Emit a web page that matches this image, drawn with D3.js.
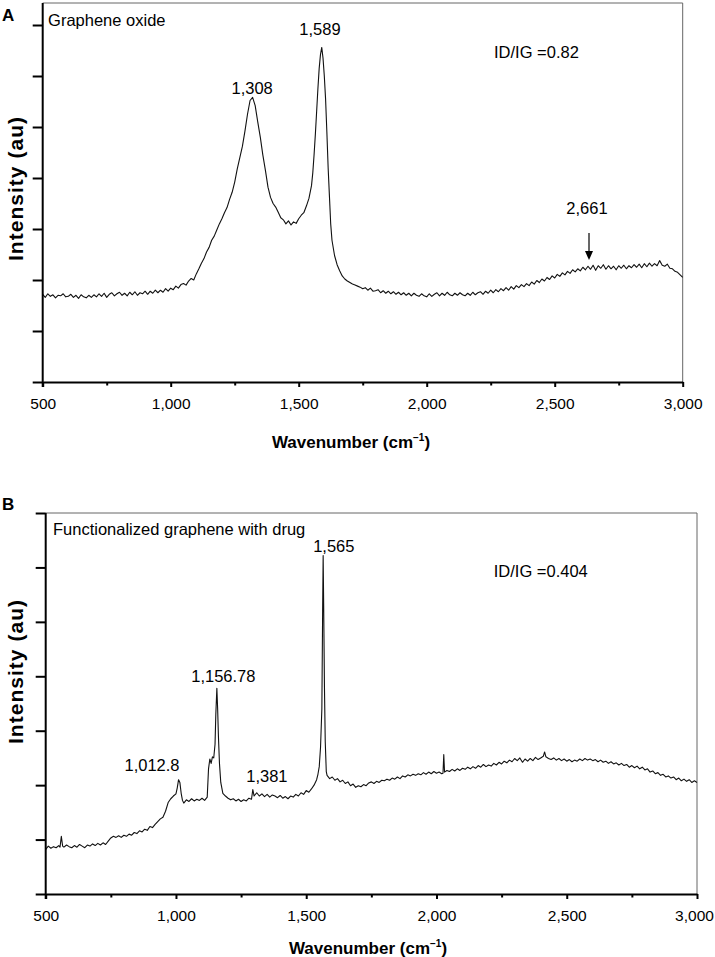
<!DOCTYPE html>
<html>
<head>
<meta charset="utf-8">
<script src="https://cdn.jsdelivr.net/npm/d3@7/dist/d3.min.js"></script>
<style>
  html, body { margin: 0; padding: 0; background: #fff; }
  svg { display: block; font-family: "Liberation Sans", Arial, Helvetica, sans-serif; }
</style>
</head>
<body>
<svg id="chart" width="715" height="957"></svg>
<script>
// ---------------- DATA ----------------
const xTickValues = [500, 1000, 1500, 2000, 2500, 3000];
const xMinorTickValues = [750, 1250, 1750, 2250, 2750];
const yTicksA = [0, 1, 2, 3, 4, 5, 6, 7];
const yTicksB = [0, 1, 2, 3, 4, 5, 6, 7];

// Panel A: Graphene oxide  [wavenumber, intensity (au)]
const spectrumA = [
[500,1.72],[510,1.66],[520,1.73],[530,1.68],[540,1.71],[550,1.65],[560,1.70],[570,1.69],[580,1.73],[590,1.67],
[600,1.68],[610,1.72],[620,1.66],[630,1.70],[640,1.64],[650,1.71],[660,1.67],[670,1.65],[680,1.70],[690,1.66],
[700,1.71],[710,1.67],[720,1.73],[730,1.68],[740,1.74],[750,1.66],[760,1.72],[770,1.75],[780,1.69],[790,1.73],
[800,1.76],[810,1.70],[820,1.74],[830,1.69],[840,1.76],[850,1.71],[860,1.77],[870,1.70],[880,1.75],[890,1.73],
[900,1.78],[910,1.72],[920,1.78],[930,1.74],[940,1.80],[950,1.75],[960,1.80],[970,1.76],[980,1.83],[990,1.78],
[1000,1.84],[1010,1.81],[1020,1.88],[1030,1.84],[1040,1.91],[1050,1.93],[1060,1.90],[1070,1.98],[1080,2.03],[1090,2.00],
[1100,2.12],[1110,2.22],[1120,2.33],[1130,2.42],[1140,2.55],[1150,2.64],[1160,2.78],[1170,2.86],[1180,2.98],[1190,3.10],
[1200,3.20],[1210,3.32],[1220,3.42],[1230,3.58],[1240,3.72],[1250,3.92],[1260,4.18],[1270,4.40],[1280,4.62],[1290,4.92],
[1300,5.25],[1310,5.52],[1320,5.58],[1330,5.42],[1340,5.10],[1350,4.80],[1360,4.45],[1370,4.15],[1380,3.82],[1390,3.62],
[1400,3.50],[1410,3.43],[1420,3.33],[1430,3.22],[1440,3.18],[1450,3.10],[1460,3.16],[1470,3.08],[1480,3.14],[1490,3.11],
[1500,3.20],[1510,3.27],[1520,3.32],[1530,3.45],[1540,3.60],[1550,3.85],[1555,4.10],[1560,4.45],[1565,4.85],[1570,5.30],
[1575,5.75],[1580,6.15],[1585,6.42],[1590,6.56],[1595,6.35],[1600,6.00],[1605,5.55],[1610,4.90],[1615,4.20],[1620,3.65],
[1625,3.10],[1630,2.78],[1640,2.48],[1650,2.30],[1660,2.18],[1670,2.08],[1680,2.02],[1690,1.98],
[1700,1.95],[1710,1.92],[1720,1.90],[1730,1.88],[1740,1.86],[1750,1.83],[1760,1.85],[1770,1.80],[1780,1.84],[1790,1.78],
[1800,1.79],[1810,1.81],[1820,1.75],[1830,1.79],[1840,1.74],[1850,1.78],[1860,1.73],[1870,1.77],[1880,1.72],[1890,1.76],
[1900,1.71],[1910,1.75],[1920,1.70],[1930,1.74],[1940,1.69],[1950,1.74],[1960,1.70],[1970,1.68],[1980,1.73],[1990,1.69],
[2000,1.67],[2010,1.73],[2020,1.68],[2030,1.72],[2040,1.75],[2050,1.69],[2060,1.74],[2070,1.70],[2080,1.76],[2090,1.71],
[2100,1.69],[2110,1.74],[2120,1.70],[2130,1.75],[2140,1.71],[2150,1.69],[2160,1.74],[2170,1.70],[2180,1.76],[2190,1.71],
[2200,1.75],[2210,1.77],[2220,1.72],[2230,1.78],[2240,1.74],[2250,1.80],[2260,1.75],[2270,1.81],[2280,1.77],[2290,1.83],
[2300,1.79],[2310,1.85],[2320,1.80],[2330,1.87],[2340,1.82],[2350,1.89],[2360,1.85],[2370,1.91],[2380,1.87],[2390,1.93],
[2400,1.89],[2410,1.96],[2420,1.92],[2430,1.99],[2440,1.95],[2450,2.02],[2460,1.98],[2470,2.05],[2480,2.01],[2490,2.08],
[2500,2.04],[2510,2.11],[2520,2.07],[2530,2.14],[2540,2.10],[2550,2.17],[2560,2.13],[2570,2.20],[2580,2.16],[2590,2.22],
[2600,2.18],[2610,2.25],[2620,2.20],[2630,2.27],[2640,2.21],[2650,2.29],[2660,2.19],[2670,2.28],[2680,2.23],[2690,2.30],
[2700,2.21],[2710,2.28],[2720,2.22],[2730,2.27],[2740,2.20],[2750,2.28],[2760,2.23],[2770,2.29],[2780,2.22],[2790,2.28],
[2800,2.24],[2810,2.30],[2820,2.25],[2830,2.31],[2840,2.24],[2850,2.32],[2860,2.26],[2870,2.33],[2880,2.27],[2890,2.32],
[2900,2.28],[2910,2.38],[2920,2.29],[2930,2.27],[2940,2.31],[2950,2.23],[2960,2.22],[2970,2.17],[2980,2.15],[2990,2.10],
[3000,2.05]
];

// Panel B: Functionalized graphene with drug  [wavenumber, intensity (au)]
const spectrumB = [
[500,0.82],[510,0.88],[520,0.84],[530,0.87],[540,0.85],[550,0.89],[555,0.86],[560,1.06],[565,0.88],[570,0.86],[580,0.90],[590,0.87],
[600,0.85],[610,0.89],[620,0.86],[630,0.91],[640,0.88],[650,0.85],[660,0.90],[670,0.88],[680,0.92],[690,0.89],
[700,0.93],[710,0.90],[720,0.94],[730,0.91],[740,0.97],[750,1.03],[760,1.06],[770,1.04],[780,1.07],[790,1.04],
[800,1.08],[810,1.06],[820,1.10],[830,1.08],[840,1.13],[850,1.11],[860,1.16],[870,1.14],[880,1.19],[890,1.17],
[900,1.24],[910,1.22],[920,1.28],[930,1.33],[940,1.38],[950,1.41],[960,1.52],[970,1.68],[980,1.75],[990,1.80],
[1000,1.84],[1005,1.95],[1010,2.10],[1015,2.05],[1020,1.85],[1025,1.72],[1030,1.67],[1040,1.73],[1050,1.70],[1060,1.75],
[1070,1.71],[1080,1.74],[1090,1.72],[1100,1.76],[1110,1.72],[1120,1.78],[1125,2.30],[1130,2.48],[1135,2.40],[1140,2.52],
[1145,2.50],[1150,2.75],[1153,3.30],[1157,3.78],[1160,3.40],[1163,2.90],[1167,2.40],[1172,2.05],[1180,1.85],[1190,1.80],
[1200,1.76],[1210,1.73],[1220,1.75],[1230,1.71],[1240,1.74],[1250,1.70],[1260,1.73],[1270,1.71],[1280,1.76],[1290,1.74],
[1295,1.92],[1300,1.80],[1310,1.86],[1320,1.80],[1330,1.84],[1340,1.79],[1350,1.83],[1360,1.78],[1370,1.82],[1380,1.80],
[1390,1.77],[1400,1.81],[1410,1.76],[1420,1.79],[1430,1.75],[1440,1.80],[1450,1.78],[1460,1.83],[1470,1.80],[1480,1.86],
[1490,1.83],[1500,1.90],[1510,1.87],[1520,1.93],[1530,2.00],[1540,2.10],[1545,2.20],[1550,2.34],[1555,2.70],[1560,3.40],
[1563,5.20],[1565,6.22],[1567,5.30],[1570,3.80],[1573,2.80],[1577,2.25],[1580,2.18],[1590,2.12],
[1600,2.15],[1610,2.09],[1620,2.12],[1630,2.06],[1640,2.09],[1650,2.03],[1660,2.06],[1670,1.99],[1680,2.02],[1690,1.96],
[1700,1.99],[1710,1.97],[1720,2.01],[1730,1.99],[1740,2.04],[1750,2.06],[1760,2.03],[1770,2.07],[1780,2.05],[1790,2.09],
[1800,2.08],[1810,2.11],[1820,2.09],[1830,2.13],[1840,2.11],[1850,2.15],[1860,2.12],[1870,2.17],[1880,2.15],[1890,2.19],
[1900,2.17],[1910,2.20],[1920,2.18],[1930,2.21],[1940,2.19],[1950,2.23],[1960,2.20],[1970,2.24],[1980,2.21],[1990,2.25],
[2000,2.22],[2010,2.24],[2020,2.21],[2025,2.22],[2028,2.56],[2031,2.24],[2040,2.27],[2050,2.25],[2060,2.29],[2070,2.26],
[2080,2.30],[2090,2.27],[2100,2.31],[2110,2.29],[2120,2.33],[2130,2.30],[2140,2.34],[2150,2.31],[2160,2.36],[2170,2.33],
[2180,2.38],[2190,2.34],[2200,2.37],[2210,2.35],[2220,2.40],[2230,2.37],[2240,2.42],[2250,2.39],[2260,2.44],[2270,2.41],
[2280,2.46],[2290,2.43],[2300,2.49],[2310,2.45],[2320,2.50],[2330,2.42],[2340,2.48],[2350,2.44],[2360,2.49],[2370,2.45],
[2380,2.51],[2390,2.47],[2400,2.50],[2410,2.53],[2415,2.61],[2420,2.52],[2430,2.49],[2440,2.47],[2450,2.50],[2460,2.46],
[2470,2.49],[2480,2.45],[2490,2.48],[2500,2.44],[2510,2.47],[2520,2.43],[2530,2.46],[2540,2.44],[2550,2.48],[2560,2.45],
[2570,2.49],[2580,2.46],[2590,2.48],[2600,2.45],[2610,2.47],[2620,2.43],[2630,2.46],[2640,2.42],[2650,2.44],[2660,2.40],
[2670,2.43],[2680,2.39],[2690,2.41],[2700,2.37],[2710,2.40],[2720,2.36],[2730,2.38],[2740,2.33],[2750,2.36],[2760,2.32],
[2770,2.35],[2780,2.30],[2790,2.33],[2800,2.28],[2810,2.30],[2820,2.24],[2830,2.26],[2840,2.21],[2850,2.23],[2860,2.18],
[2870,2.20],[2880,2.15],[2890,2.17],[2900,2.13],[2910,2.15],[2920,2.10],[2930,2.13],[2940,2.08],[2950,2.11],[2960,2.07],
[2970,2.10],[2980,2.05],[2990,2.08],[3000,2.05]
];

// Annotations: [text, wavenumber, intensity, anchor]
const annotationsA = [
  ["Graphene oxide", 521, 6.98, "start"],
  ["1,308", 1318, 5.65, "middle"],
  ["1,589", 1583, 6.80, "middle"],
  ["ID/IG =0.82", 2263, 6.35, "start"],
  ["2,661", 2626, 3.29, "middle"]
];
const arrowA = { x: 2634, from: 2.92, to: 2.39 };
const annotationsB = [
  ["Functionalized graphene with drug", 528, 6.60, "start"],
  ["1,565", 1606, 6.28, "middle"],
  ["ID/IG =0.404", 2220, 5.82, "start"],
  ["1,156.78", 1182, 3.89, "middle"],
  ["1,012.8", 908, 2.26, "middle"],
  ["1,381", 1349, 2.06, "middle"]
];

// ---------------- DRAW ----------------
const svg = d3.select("#chart");
const fmt = d3.format(",");

function panel(cfg) {
  const x = d3.scaleLinear().domain([500, 3000]).range([cfg.left, cfg.right]);
  const y = d3.scaleLinear().domain([0, cfg.yMax]).range([cfg.bottom, cfg.top]);
  const g = svg.append("g");

  // frame: top & right thin grey
  g.append("path")
    .attr("d", `M${cfg.left},${cfg.top}H${cfg.right}V${cfg.bottom}`)
    .attr("fill", "none").attr("stroke", "#666").attr("stroke-width", 1);

  // spectrum
  const line = d3.line().x(d => x(d[0])).y(d => y(d[1]));
  g.append("path").datum(cfg.data)
    .attr("d", line).attr("fill", "none")
    .attr("stroke", "#111").attr("stroke-width", 1.1).attr("stroke-linejoin", "round");

  // x axis
  const xAxis = d3.axisBottom(x).tickValues(xTickValues).tickFormat(fmt).tickSize(5).tickSizeOuter(0);
  const gx = g.append("g").attr("transform", `translate(0,${cfg.bottom})`).call(xAxis);
  gx.select(".domain").attr("stroke", "#000").attr("stroke-width", 2);
  gx.selectAll(".tick line").attr("stroke", "#000").attr("stroke-width", 2);
  gx.selectAll(".tick text").attr("font-size", "15.5px").attr("fill", "#000")
    .attr("font-family", "Liberation Sans, Arial, sans-serif").attr("dy", null).attr("y", 27)
    .attr("x", d => d === 3000 ? cfg.lastLabelShift : 0);
  const xMinor = d3.axisBottom(x).tickValues(xMinorTickValues).tickFormat("").tickSize(3.5).tickSizeOuter(0);
  const gxm = g.append("g").attr("transform", `translate(0,${cfg.bottom})`).call(xMinor);
  gxm.select(".domain").remove();
  gxm.selectAll(".tick line").attr("stroke", "#000").attr("stroke-width", 2);

  // y axis
  const yAxis = d3.axisLeft(y).tickValues(cfg.yTicks).tickFormat("").tickSize(10).tickSizeOuter(0);
  const gy = g.append("g").attr("transform", `translate(${cfg.left},0)`).call(yAxis);
  gy.select(".domain").attr("stroke", "#000").attr("stroke-width", 2)
    .attr("d", `M0,${cfg.bottom + 5}V${cfg.top}`);
  gy.selectAll(".tick line").attr("stroke", "#000").attr("stroke-width", 2);

  // axis titles
  const xt = g.append("text").attr("x", cfg.xTitleX).attr("y", cfg.xTitleY)
    .attr("text-anchor", "middle").attr("font-weight", "bold").attr("font-size", "17px").attr("fill", "#000");
  xt.append("tspan").text("Wavenumber (cm");
  xt.append("tspan").text("\u22121").attr("font-size", "10px").attr("dy", -7);
  xt.append("tspan").text(")").attr("dy", 7);

  g.append("text")
    .attr("transform", `translate(${cfg.yTitleX},${cfg.yTitleY}) rotate(-90)`)
    .attr("text-anchor", "middle").attr("font-weight", "bold").attr("font-size", "21px").attr("fill", "#000")
    .attr("textLength", 144).attr("lengthAdjust", "spacing")
    .text("Intensity (au)");

  // panel letter
  g.append("text").attr("x", cfg.letterX).attr("y", cfg.letterY)
    .attr("font-weight", "bold").attr("font-size", "17px").attr("fill", "#000").text(cfg.letter);

  // annotations
  g.selectAll("text.ann").data(cfg.annotations).enter().append("text")
    .attr("class", "ann")
    .attr("x", d => x(d[1])).attr("y", d => y(d[2]))
    .attr("text-anchor", d => d[3])
    .attr("font-size", "16.5px").attr("fill", "#000")
    .text(d => d[0]);

  return { x, y, g };
}

const pA = panel({
  data: spectrumA, left: 42.7, right: 682.7, top: 3, bottom: 382, yMax: 379 / 51, yTicks: yTicksA,
  xTitleX: 351, xTitleY: 448, yTitleX: 23, yTitleY: 189, letter: "A", letterX: 2, letterY: 21,
  annotations: annotationsA, lastLabelShift: 0
});
const pB = panel({
  data: spectrumB, left: 45.7, right: 697, top: 513, bottom: 894, yMax: 7, yTicks: yTicksB,
  xTitleX: 368, xTitleY: 954, yTitleX: 23, yTitleY: 672, letter: "B", letterX: 2, letterY: 510,
  annotations: annotationsB, lastLabelShift: -3
});

// arrow for 2,661
const ax = pA.x(arrowA.x), ay1 = pA.y(arrowA.from), ay2 = pA.y(arrowA.to);
pA.g.append("line").attr("x1", ax).attr("x2", ax).attr("y1", ay1).attr("y2", ay2 - 7)
  .attr("stroke", "#000").attr("stroke-width", 1.2);
pA.g.append("path")
  .attr("d", `M${ax - 4},${ay2 - 9}L${ax + 4},${ay2 - 9}L${ax},${ay2}Z`)
  .attr("fill", "#000");
</script>
</body>
</html>
